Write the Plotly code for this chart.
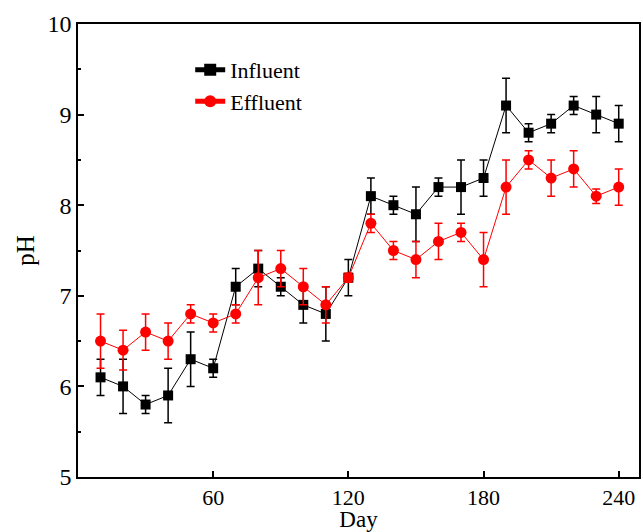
import plotly.graph_objects as go

days = [10, 20, 30, 40, 50, 60, 70, 80, 90, 100, 110, 120,
        130, 140, 150, 160, 170, 180, 190, 200, 210, 220, 230, 240]
influent = [6.1, 6.0, 5.8, 5.9, 6.3, 6.2, 7.1, 7.3, 7.1, 6.9, 6.8, 7.2,
            8.1, 8.0, 7.9, 8.2, 8.2, 8.3, 9.1, 8.8, 8.9, 9.1, 9.0, 8.9]
influent_err = [0.2, 0.3, 0.1, 0.3, 0.3, 0.1, 0.2, 0.2, 0.1, 0.2, 0.3, 0.2,
                0.2, 0.1, 0.3, 0.1, 0.3, 0.2, 0.3, 0.1, 0.1, 0.1, 0.2, 0.2]
effluent = [6.5, 6.4, 6.6, 6.5, 6.8, 6.7, 6.8, 7.2, 7.3, 7.1, 6.9, 7.2,
            7.8, 7.5, 7.4, 7.6, 7.7, 7.4, 8.2, 8.5, 8.3, 8.4, 8.1, 8.2]
effluent_err = [0.3, 0.22, 0.2, 0.2, 0.1, 0.1, 0.1, 0.3, 0.2, 0.2, 0.2, 0.05,
                0.1, 0.1, 0.2, 0.2, 0.1, 0.3, 0.3, 0.1, 0.2, 0.2, 0.08, 0.2]

font_family = "Liberation Serif, Times New Roman, serif"

fig = go.Figure()
fig.add_trace(go.Scatter(
    x=days, y=influent, name="Influent", mode="lines+markers",
    line=dict(color="black", width=1),
    marker=dict(symbol="square", size=10, color="black"),
    error_y=dict(type="data", array=influent_err, color="black", thickness=1.5, width=4),
))
fig.add_trace(go.Scatter(
    x=days, y=effluent, name="Effluent", mode="lines+markers",
    line=dict(color="red", width=1),
    marker=dict(symbol="circle", size=11, color="red"),
    error_y=dict(type="data", array=effluent_err, color="red", thickness=1.5, width=4),
))

fig.update_layout(
    width=643, height=532,
    margin=dict(l=78, r=2, t=24, b=55),
    paper_bgcolor="white", plot_bgcolor="white",
    font=dict(family=font_family, size=24, color="black"),
    showlegend=True,
    legend=dict(x=0.2, y=0.945, xanchor="left", yanchor="top",
                bgcolor="rgba(0,0,0,0)", font=dict(size=22), tracegroupgap=0,
                itemsizing="constant"),
)
fig.update_xaxes(
    range=[0, 249], tickvals=[60, 120, 180, 240],
    ticks="inside", ticklen=6, tickwidth=1.5, tickcolor="black",
    tickfont=dict(size=22),
    showline=True, linecolor="black", linewidth=1.5, mirror=True,
    showgrid=False, zeroline=False, automargin=False,
    title=dict(text="Day", font=dict(size=23), standoff=4),
)
fig.update_yaxes(
    range=[5, 10], tickvals=[5, 6, 7, 8, 9, 10],
    ticks="inside", ticklen=6, tickwidth=1.5, tickcolor="black",
    minor=dict(tickvals=[5.5, 6.5, 7.5, 8.5, 9.5], ticks="inside", ticklen=3,
               tickcolor="black", tickwidth=1.5),
    showline=True, linecolor="black", linewidth=1.5, mirror=True,
    showgrid=False, zeroline=False,
    title=dict(text="pH", font=dict(size=25), standoff=6),
)

fig.write_html("out.html", config={"displayModeBar": False},
               post_script="document.body.style.margin='0';")
